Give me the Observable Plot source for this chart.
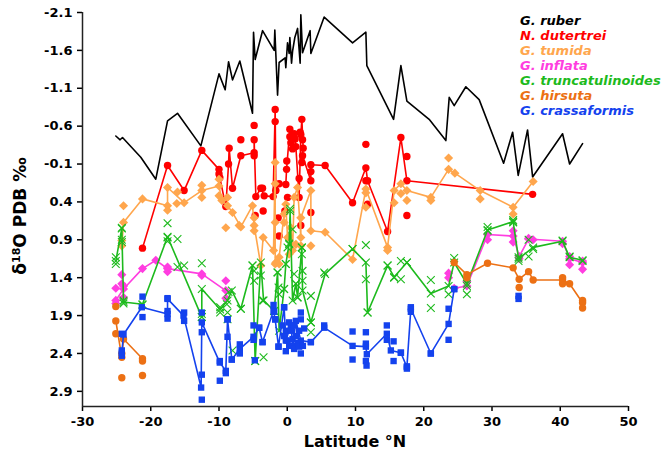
<!DOCTYPE html>
<html><head><meta charset="utf-8">
<script src="https://cdn.jsdelivr.net/npm/d3@7"></script>
<script src="https://cdn.jsdelivr.net/npm/@observablehq/plot@0.6"></script>
<style>
html,body{margin:0;padding:0;background:#fff;}
#chart{width:663px;height:466px;}
svg text{font-family:"DejaVu Sans",sans-serif;}
</style></head><body><div id="chart"></div>
<script>
// ---- labels / ticks ----
const speciesNames = ["G. ruber","N. dutertrei","G. tumida","G. inflata","G. truncatulinoides","G. hirsuta","G. crassaformis"];
const speciesColors = ["#000000","#FF0000","#FFA64D","#FF3DE0","#1DBA1D","#EC7014","#1442EE"];
const xTicks = [-30,-20,-10,0,10,20,30,40,50];
const yTicks = [-2.1,-1.6,-1.1,-0.6,-0.1,0.4,0.9,1.4,1.9,2.4,2.9];
const xTitle = "Latitude °N";

// ---- data: [latitude °N, δ18O] ----
const ruberLine = [[-25.12,-0.47],[-24.49,-0.42],[-24.14,-0.45],[-21.46,-0.19],[-19.26,0.10],[-17.54,-0.67],[-16.08,-0.77],[-12.66,-0.34],[-10.0,-1.29],[-9.10,-1.08],[-8.60,-1.45],[-8.02,-1.21],[-6.95,-1.46],[-5.09,-0.77],[-4.94,-1.84],[-4.70,-1.48],[-3.62,-1.86],[-1.92,-1.60],[-1.82,-1.87],[-1.42,-1.01],[-1.19,-1.44],[-0.31,-1.50],[-0.21,-1.37],[0.04,-1.70],[0.28,-1.56],[0.38,-1.77],[0.63,-1.43],[0.78,-1.59],[1.11,-1.77],[1.51,-1.89],[1.89,-1.43],[1.99,-2.07],[2.24,-1.57],[3.35,-1.86],[3.46,-1.56],[5.41,-2.04],[9.57,-1.70],[11.52,-1.84],[11.66,-1.40],[15.58,-0.69],[16.65,-1.40],[17.53,-0.93],[20.79,-0.69],[23.24,-0.41],[23.73,-0.98],[24.46,-0.87],[26.17,-1.12],[28.12,-0.95],[31.70,-0.11],[33.02,-0.52],[33.84,0.05],[35.21,-0.55],[35.95,0.07],[40.34,-0.50],[41.37,-0.10],[43.27,-0.37]];

const dutertreiLine = [[-21.21,1.01],[-17.54,-0.08],[-15.11,0.25],[-12.52,-0.28],[-10.0,-0.03],[-9.88,0.08],[-9.0,0.46],[-8.6,-0.10],[-8.51,-0.31],[-8.02,0.22],[-6.8,-0.21],[-4.85,-0.25],[-4.85,-0.42],[-4.6,0.33],[-3.87,0.22],[-3.38,0.32],[-2.07,0.33],[-1.77,-0.82],[-1.67,0.25],[-1.19,0.16],[-0.21,0.17],[-0.10,-0.03],[0.38,-0.56],[0.78,-0.30],[1.01,-0.50],[1.26,-0.33],[1.74,0.34],[1.99,-0.49],[2.14,-0.69],[2.33,-0.31],[2.24,-0.21],[3.46,0.12],[3.46,-0.09],[5.55,-0.08],[9.57,0.41],[11.52,-0.05],[11.77,0.12],[14.70,0.79],[16.65,-0.45],[17.53,0.12],[35.95,0.30]];
const dutertreiPts = [[-10.0,0.03],[-6.8,-0.42],[-4.85,-0.61],[-4.85,-0.21],[-1.77,-0.66],[-3.62,0.22],[-3.53,0.52],[-4.70,0.58],[-1.33,0.61],[-1.19,0.85],[-0.35,0.52],[0.04,0.34],[1.99,0.71],[-0.07,-0.14],[0.38,-0.46],[0.53,-0.38],[1.16,-0.43],[1.89,-0.52],[2.24,-0.42],[2.14,-0.12],[1.74,0.09],[3.46,0.0],[3.46,0.54],[11.52,-0.36],[11.77,0.43],[17.53,-0.20],[17.53,0.58],[11.52,0.12]];

const tumidaLine = [[-24.24,0.98],[-23.99,0.67],[-21.21,0.36],[-17.54,0.45],[-17.54,0.21],[-15.11,0.41],[-12.52,0.25],[-10.0,0.19],[-9.58,0.38],[-8.75,0.45],[-8.02,0.54],[-6.80,0.73],[-5.09,0.45],[-4.85,0.71],[-3.87,1.24],[-3.53,0.87],[-2.01,1.04],[-1.77,-0.12],[-1.77,1.22],[-1.19,1.13],[-0.46,0.56],[-0.21,0.43],[0.04,0.87],[0.53,0.74],[0.78,1.04],[1.01,0.34],[1.51,0.21],[1.99,0.87],[1.99,0.61],[3.46,0.25],[3.46,0.78],[5.55,0.80],[9.57,1.16],[11.52,0.23],[14.70,1.00],[15.66,0.25],[16.65,0.16],[17.53,0.25],[21.04,0.34],[23.64,-0.03],[24.56,0.02],[28.27,0.25],[33.10,0.47],[36.03,0.13]];
const tumidaPts = [[-23.99,0.45],[-24.24,0.91],[-17.54,0.51],[-16.08,0.27],[-16.18,0.42],[-12.52,0.34],[-12.52,0.18],[-10.0,0.10],[-10.0,0.32],[-9.0,0.74],[-8.75,0.34],[-4.85,0.61],[-4.85,0.78],[-1.77,0.16],[-1.77,0.67],[-1.19,1.22],[-0.46,0.67],[1.99,0.98],[3.46,0.98],[11.52,0.47],[11.52,0.28],[14.70,1.04],[15.66,0.41],[16.65,0.29],[17.53,0.38],[21.04,0.38],[23.64,-0.18],[28.27,0.36],[33.10,0.56],[0.28,1.09],[1.26,0.96],[-1.67,1.20],[-7.05,0.71]];

const inflataLineS = [[-25.12,1.70],[-23.99,1.55],[-21.21,1.28],[-19.26,1.17],[-17.54,1.28],[-12.52,1.35],[-9.0,1.57]];
const inflataLineN = [[24.46,1.54],[26.32,1.51],[29.35,0.83],[33.10,0.85],[33.98,1.12],[35.36,0.89],[40.34,0.92],[41.37,1.15],[43.27,1.20]];
const inflataPts = [[-25.12,1.54],[-25.12,1.74],[-24.24,1.36],[-24.24,1.48],[-23.99,1.51],[-23.99,1.66],[-17.54,1.26],[-17.54,1.32],[-12.52,1.37],[-9.0,1.44],[-9.0,1.67],[23.64,1.34],[23.64,1.40],[26.32,1.45],[29.35,0.90],[33.10,0.78],[33.10,0.93],[33.98,1.15],[35.36,0.88],[36.03,0.90],[40.34,0.95],[41.37,1.12],[41.37,1.23],[43.27,1.18],[43.27,1.29]];

const truncLine = [[-25.12,1.18],[-24.24,0.75],[-23.99,1.72],[-21.21,1.75],[-17.54,0.86],[-12.52,1.92],[-12.52,1.55],[-9.83,1.82],[-8.75,1.70],[-8.12,1.57],[-6.80,1.81],[-5.09,1.24],[-4.70,2.50],[-3.87,1.20],[-3.47,1.70],[-1.92,1.84],[-1.42,1.33],[-1.19,2.10],[-0.46,1.55],[-0.21,1.22],[0.28,0.95],[0.42,0.52],[0.78,1.70],[1.26,1.48],[1.51,1.66],[2.14,1.00],[2.24,1.57],[3.46,1.99],[5.55,1.35],[9.57,1.02],[11.52,1.20],[11.77,1.86],[14.70,1.24],[15.66,1.39],[17.53,1.20],[21.04,1.61],[23.64,1.51],[24.46,1.20],[26.32,1.48],[29.35,0.77],[33.10,0.66],[33.89,1.15],[36.03,1.00],[40.34,0.92],[41.37,1.13],[43.27,1.17]];
const truncPts = [[-25.12,1.13],[-25.12,1.22],[-24.24,0.74],[-24.24,0.90],[-24.24,0.93],[-23.99,1.70],[-23.99,1.74],[-21.21,1.76],[-17.54,0.68],[-17.54,0.87],[-17.54,0.92],[-16.08,0.89],[-16.08,1.26],[-15.11,1.24],[-12.52,1.21],[-12.52,1.88],[-12.52,1.92],[-9.83,1.79],[-9.83,1.86],[-8.85,1.75],[-8.75,1.86],[-8.75,1.95],[-8.60,1.59],[-8.02,2.36],[-6.80,1.81],[-5.09,1.24],[-4.85,1.31],[-4.85,1.44],[-4.70,2.50],[-3.87,1.37],[-3.62,1.70],[-3.47,2.45],[-1.92,1.84],[-1.19,1.62],[-1.42,1.33],[-1.28,1.53],[-0.46,1.55],[-0.21,1.22],[0.04,1.00],[0.28,0.96],[0.42,0.49],[0.78,0.76],[1.01,1.35],[1.26,1.48],[1.51,1.66],[2.14,1.00],[2.14,1.09],[2.24,1.31],[2.24,1.44],[3.46,1.64],[3.46,1.99],[3.46,2.12],[5.41,1.33],[9.57,1.02],[11.52,0.97],[11.52,1.42],[11.77,1.86],[14.70,1.24],[15.66,1.40],[16.65,1.18],[16.65,1.42],[17.53,1.20],[21.04,1.43],[21.04,1.80],[23.64,1.62],[24.46,1.14],[26.32,1.51],[26.32,1.62],[29.35,0.73],[29.35,0.78],[33.10,0.64],[33.10,0.67],[33.89,1.13],[33.89,1.18],[35.36,0.90],[35.36,1.12],[36.03,1.02],[40.34,0.91],[41.37,1.12],[43.27,1.18]];

const hirsutaLineS = [[-25.12,1.97],[-24.24,2.45],[-23.99,2.21],[-21.21,2.47]];
const hirsutaLineN = [[24.46,1.20],[26.32,1.36],[29.35,1.21],[33.10,1.27],[33.98,1.42],[35.36,1.32],[36.03,1.43],[40.34,1.43],[41.37,1.48],[43.27,1.73]];
const hirsutaPts = [[-25.12,1.78],[-25.12,2.14],[-24.24,2.40],[-24.24,2.72],[-21.21,2.50],[-21.21,2.69],[26.32,1.40],[33.98,1.53],[40.34,1.48],[40.34,1.40],[43.27,1.70],[43.27,1.80]];

const crassLine = [[-24.24,2.39],[-23.99,2.15],[-21.31,1.79],[-17.54,1.88],[-17.54,1.68],[-15.20,1.90],[-12.62,2.85],[-12.52,1.99],[-9.88,2.52],[-9.0,2.63],[-8.75,1.95],[-8.12,2.48],[-6.95,2.34],[-4.94,2.18],[-4.12,2.06],[-3.62,2.25],[-2.01,1.84],[-1.77,1.95],[-1.28,2.31],[-0.46,1.79],[-0.21,2.23],[0.53,2.03],[0.82,2.30],[1.26,1.97],[1.99,2.23],[3.46,2.25],[5.41,2.06],[9.57,2.30],[11.52,2.31],[11.66,2.41],[14.59,2.14],[15.18,2.36],[16.65,2.39],[17.53,2.58],[18.11,1.81],[21.04,2.40],[23.64,2.01],[24.46,1.55]];
const crassPts = [[-24.24,2.14],[-24.24,2.36],[-24.24,2.43],[-21.21,1.65],[-21.21,1.92],[-17.54,1.67],[-17.54,1.84],[-17.54,1.94],[-15.11,1.86],[-15.11,1.97],[-12.52,1.86],[-12.52,2.12],[-12.52,2.68],[-12.52,3.01],[-9.88,2.50],[-9.88,2.76],[-9.0,2.66],[-8.75,1.95],[-8.75,2.18],[-8.12,2.48],[-6.95,2.28],[-6.95,2.40],[-4.94,2.03],[-4.94,2.22],[-4.75,2.49],[-4.12,2.06],[-3.62,2.25],[-2.01,1.76],[-1.92,1.85],[-1.77,1.95],[-1.28,2.31],[-0.46,1.79],[-0.21,2.37],[1.99,1.86],[1.99,1.95],[1.99,2.40],[3.46,2.25],[5.41,2.03],[9.57,2.11],[9.57,2.48],[11.52,2.12],[11.52,2.27],[11.52,2.50],[11.62,2.56],[14.59,2.03],[14.59,2.22],[15.58,2.24],[15.58,2.50],[16.65,2.39],[17.53,2.57],[17.53,2.60],[18.11,1.79],[18.11,1.85],[21.04,2.40],[23.64,1.81],[23.64,2.22],[24.46,1.55],[33.89,1.64],[33.89,1.68],[-0.69,2.03],[-0.46,2.17],[-0.21,2.10],[0.04,2.23],[0.28,1.99],[0.28,2.30],[0.53,2.10],[0.78,2.21],[1.01,2.03],[1.01,2.34],[1.26,2.17],[1.51,2.26],[1.74,2.10],[1.74,2.31],[2.29,2.30],[2.48,2.07]];

// ---- build rows ----
const rows = (pairs, seg = 0) => pairs.map(([lat, d18o]) => ({lat, d18o, seg}));
const series = [
  {lines: [ruberLine], pts: [], symbol: null},
  {lines: [dutertreiLine], pts: dutertreiPts, symbol: "circle", r: 3.7},
  {lines: [tumidaLine], pts: tumidaPts, symbol: "diamond2", r: 4.1},
  {lines: [inflataLineS, inflataLineN], pts: inflataPts, symbol: "diamond2", r: 4.1},
  {lines: [truncLine], pts: truncPts, symbol: "times", r: 3.6},
  {lines: [hirsutaLineS, hirsutaLineN], pts: hirsutaPts, symbol: "circle", r: 3.7},
  {lines: [crassLine], pts: crassPts, symbol: "square", r: 3.6}
];

const marks = [];
series.forEach((s, i) => {
  const color = speciesColors[i];
  const lineRows = s.lines.flatMap((l, k) => rows(l, k));
  marks.push(Plot.line(lineRows, {x: "lat", y: "d18o", z: "seg", stroke: color, strokeWidth: 1.6}));
  if (s.symbol) {
    const dots = lineRows.concat(rows(s.pts));
    if (s.symbol === "times") {
      marks.push(Plot.dot(dots, {x: "lat", y: "d18o", symbol: "times", r: s.r, stroke: color, strokeWidth: 1.1}));
    } else {
      marks.push(Plot.dot(dots, {x: "lat", y: "d18o", symbol: s.symbol, r: s.r, fill: color, stroke: "none"}));
    }
  }
});

const chart = Plot.plot({
  width: 663, height: 466,
  marginLeft: 82, marginRight: 35, marginTop: 12, marginBottom: 60,
  style: {fontFamily: "DejaVu Sans, sans-serif", fontSize: "13px", fontWeight: "bold", color: "#000", background: "#fff", overflow: "visible"},
  x: {domain: [-30, 50]},
  y: {domain: [-2.1, 3.1], reverse: true},
  marks: [
    Plot.axisX({ticks: xTicks, tickFormat: d => String(d), tickSize: 5, tickPadding: 5, label: null, strokeWidth: 1.5, fontSize: 13, fontWeight: "bold"}),
    Plot.axisY({ticks: yTicks, tickFormat: d => d.toFixed(1), tickSize: 5, tickPadding: 5, label: null, strokeWidth: 1.5, fontSize: 13, fontWeight: "bold"}),
    Plot.ruleX([-30], {stroke: "#222", strokeWidth: 1.5}),
    Plot.ruleY([3.1], {stroke: "#222", strokeWidth: 1.5}),
    ...marks
  ]
});
document.getElementById("chart").appendChild(chart);

// ---- titles and legend ----
const svg = d3.select(chart);
const yl = svg.append("text")
  .attr("transform", "translate(26,216) rotate(-90)")
  .attr("text-anchor", "middle").attr("font-size", 17).attr("font-weight", "bold").attr("fill", "#000");
yl.append("tspan").text("δ");
yl.append("tspan").attr("baseline-shift", "super").attr("font-size", 11).text("18");
yl.append("tspan").text("O PDB ‰");

svg.append("text").attr("x", 355).attr("y", 447)
  .attr("text-anchor", "middle").attr("font-size", 16).attr("font-weight", "bold").attr("fill", "#000")
  .text(xTitle);

const lg = svg.append("g").attr("font-size", 13).attr("font-weight", "bold").attr("font-style", "italic").attr("text-anchor", "start");
speciesNames.forEach((n, i) => {
  lg.append("text").attr("x", 520).attr("y", 24.5 + 15 * i).attr("text-anchor", "start").attr("fill", speciesColors[i]).text(n);
});
</script>
</body></html>
